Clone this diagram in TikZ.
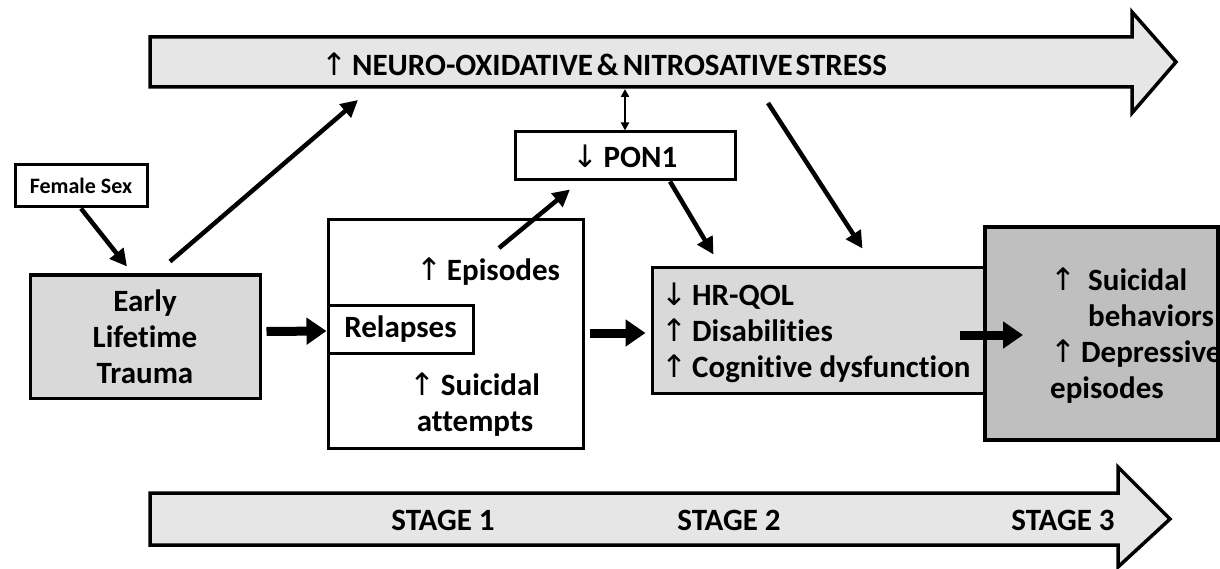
\documentclass[tikz,border=0pt]{standalone}
\usepackage{fontspec}
\setmainfont{Carlito}[Ligatures=NoCommon]
\newfontfamily\symf{DejaVu Sans}
\usetikzlibrary{arrows.meta,calc}
\newcommand{\uar}{{\mdseries\symf\char"2191}\hspace{5pt}}
\newcommand{\dar}{{\mdseries\symf\char"2193}\hspace{5pt}}
\definecolor{boxgray}{HTML}{D9D9D9}
\definecolor{darkgray}{HTML}{BFBFBF}
\definecolor{arrgray}{HTML}{E7E6E6}
\tikzset{
  box/.style={draw=black, line width=3pt, inner sep=0pt},
  txt/.style={font=\bfseries\fontsize{31}{36}\selectfont, inner sep=0pt},
  captxt/.style={font=\bfseries\fontsize{31}{36}\selectfont, inner sep=0pt},
  conn/.style={line width=4.5pt, -{Triangle[length=17pt,width=17pt]}},
  fat/.style={line width=9pt, -{Triangle[length=20pt,width=26pt]}},
  bigarrow/.style={draw=black, line width=3.5pt, fill=arrgray, line join=miter},
}
\begin{document}
\begin{tikzpicture}[x=1pt,y=-1pt]
\useasboundingbox (0,0) rectangle (1220,569);
% big arrows
\draw[bigarrow] (150,37) -- (1132,37) -- (1132,12) -- (1176,62) -- (1132,113) -- (1132,87) -- (150,87) -- cycle;
\node[captxt] (stress) at (604,64) {\uar NEURO-OXIDATIVE\hspace{4pt}\&\hspace{4pt}NITROSATIVE\hspace{3pt}STRESS};
\draw[bigarrow] (150,493) -- (1118,493) -- (1118,467) -- (1170,519) -- (1118,567) -- (1118,545) -- (150,545) -- cycle;
\node[captxt] (st1) at (443,520) {STAGE 1};
\node[captxt] (st2) at (729,520) {STAGE 2};
\node[captxt] (st3) at (1063,520) {STAGE 3};
\coordinate (topA) at (358,100);
\coordinate (topB) at (768,103);
\coordinate (topC) at (625,89);
% boxes
\node[box, line width=3pt, minimum width=132pt, minimum height=42pt, font=\bfseries\fontsize{22}{26}\selectfont] (female) at (81,186) {Female Sex};
\node[box, fill=boxgray, minimum width=230pt, minimum height=123pt, txt, align=center] (early) at (145,336.5) {Early\\Lifetime\\Trauma};
\node[box, minimum width=255pt, minimum height=228pt] (s1) at (455.5,334) {};
\node[box, fill=white, minimum width=145pt, minimum height=48pt, txt] (relapses) at (400.5,329) {Relapses};
\node[txt] (epi) at (488,272) {\uar Episodes};
\node[txt, align=center] (sui) at (475,405) {\uar Suicidal\\attempts};
\node[box, minimum width=220pt, minimum height=48pt, txt] (pon) at (625,156) {\dar PON1};
\node[box, fill=boxgray, minimum width=333pt, minimum height=125pt] (s2) at (818.5,330.5) {};
\node[txt, align=left, anchor=west] (s2t) at (661,333) {\dar HR-QOL\\\uar Disabilities\\\uar Cognitive dysfunction};
\node[box, line width=4pt, fill=darkgray, minimum width=233pt, minimum height=213pt] (s3) at (1101.5,333.5) {};
\node[txt, align=left, anchor=west] (s3t) at (1050,336) {\uar\hspace{7pt}Suicidal\\\hspace*{38pt}behaviors\\\uar Depressive\\episodes};
% connectors
\draw[conn] (female.south) -- ($(early.north)+(-18,-7)$);
\draw[conn] ($(early.north)+(25,-12)$) -- (topA);
\draw[fat] ($(early.east)+(5,-5)$) -- ($(relapses.west)+(0,2)$);
\draw[conn] ($(epi.north)+(11,-10)$) -- ($(pon.south)+(-55,8)$);
\draw[line width=2pt, {Triangle[length=8pt,width=8pt]}-{Triangle[length=8pt,width=8pt]}] (pon.north) -- (topC);
\draw[conn] ($(pon.south)+(45,0)$) -- ($(s2.north)+(-105,-12)$);
\draw[conn] (topB) -- ($(s2.north)+(44,-18)$);
\draw[fat] ($(s1.east)+(5,-1)$) -- ($(s2.west)+(-5,2.5)$);
\draw[fat] ($(s2.east)+(-27,4.5)$) -- ($(s3.west)+(40,1.5)$);
\end{tikzpicture}
\end{document}
